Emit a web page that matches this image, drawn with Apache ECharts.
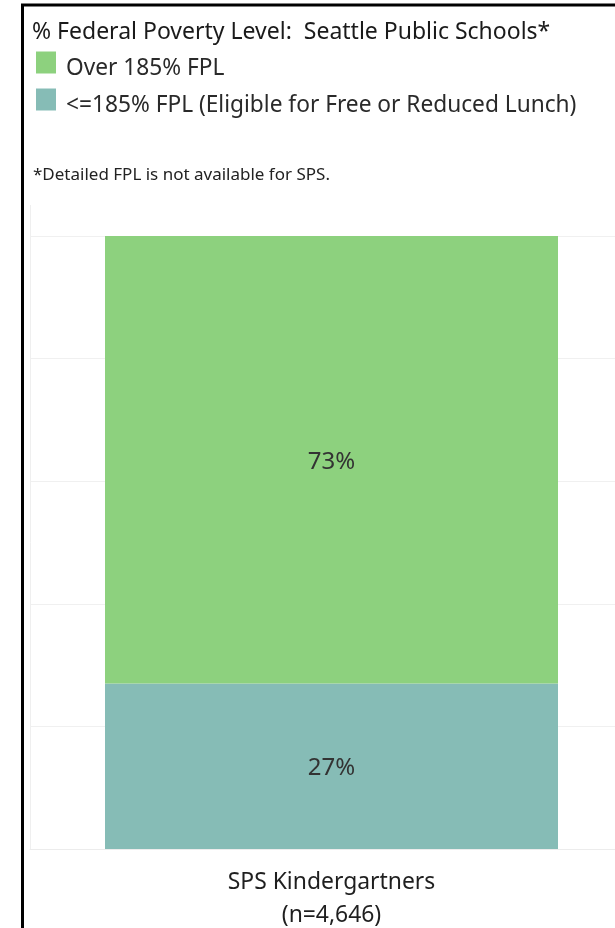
<!DOCTYPE html>
<html>
<head>
<meta charset="utf-8">
<script src="https://cdn.jsdelivr.net/npm/echarts@6/dist/echarts.min.js"></script>
<style>
html,body{margin:0;padding:0;background:#fff;}
#chart{width:615px;height:928px;}
</style>
</head>
<body>
<div id="chart"></div>
<script>
const categories = ['SPS Kindergartners\n(n=4,646)'];
const lowIncome = [27];   // <=185% FPL
const overFPL = [73];     // Over 185% FPL
const yTicks = [0, 20, 40, 60, 80, 100];

const FONT = 'Noto Sans';
const chart = echarts.init(document.getElementById('chart'));
chart.setOption({
  animation: false,
  backgroundColor: '#ffffff',
  title: [
    {
      text: '% Federal Poverty Level:  Seattle Public Schools*',
      left: 27, top: 16,
      textStyle: {fontFamily: FONT, fontSize: 23, fontWeight: 'normal', color: '#1a1a1a'}
    },
    {
      text: '*Detailed FPL is not available for SPS.',
      left: 28, top: 162,
      textStyle: {fontFamily: FONT, fontSize: 17, fontWeight: 'normal', color: '#222'}
    }
  ],
  legend: {
    orient: 'vertical',
    left: 31, top: 46.5,
    itemWidth: 20, itemHeight: 22, itemGap: 8.5,
    icon: 'rect',
    data: ['Over 185% FPL', '<=185% FPL (Eligible for Free or Reduced Lunch)'],
    formatter: '{t|{name}}',
    textStyle: {
      fontFamily: FONT, fontSize: 22.7, color: '#2a2a2a',
      rich: {t: {fontFamily: FONT, fontSize: 22.7, color: '#2a2a2a', padding: [12, 0, 0, 5]}}
    }
  },
  grid: {left: 30, width: 603, top: 236, bottom: 79, containLabel: false, outerBoundsMode: 'none'},
  xAxis: {
    type: 'category',
    data: categories,
    axisLine: {show: true, lineStyle: {color: '#ececec', width: 1}},
    axisTick: {show: false},
    axisLabel: {
      fontFamily: FONT, fontSize: 22.9, color: '#1f1f1f', lineHeight: 33, margin: 17
    }
  },
  yAxis: {
    type: 'value',
    min: 0, max: 100, interval: 20,
    axisLabel: {show: false},
    axisTick: {show: false},
    axisLine: {show: true, lineStyle: {color: '#efefef'}},
    splitLine: {show: true, lineStyle: {color: '#f0f0f0', width: 1}}
  },
  graphic: [
    {type: 'line', shape: {x1: 30.5, y1: 205, x2: 30.5, y2: 236}, style: {stroke: '#efefef', lineWidth: 1}, silent: true},
    {type: 'line', shape: {x1: 21, y1: 5, x2: 615, y2: 5}, style: {stroke: '#000', lineWidth: 3}, silent: true},
    {type: 'line', shape: {x1: 22.5, y1: 4, x2: 22.5, y2: 928}, style: {stroke: '#000', lineWidth: 3}, silent: true}
  ],
  series: [
    {
      name: '<=185% FPL (Eligible for Free or Reduced Lunch)',
      type: 'bar', stack: 'fpl', data: lowIncome,
      barWidth: 453,
      itemStyle: {color: '#86bcb6'},
      label: {show: true, position: 'inside', offset: [0, 2], formatter: '{c}%', fontFamily: FONT, fontSize: 24, color: '#333'}
    },
    {
      name: 'Over 185% FPL',
      type: 'bar', stack: 'fpl', data: overFPL,
      barWidth: 453,
      itemStyle: {color: '#8dd17e'},
      label: {show: true, position: 'inside', offset: [0, 2], formatter: '{c}%', fontFamily: FONT, fontSize: 24, color: '#333'}
    }
  ]
});
</script>
</body>
</html>
